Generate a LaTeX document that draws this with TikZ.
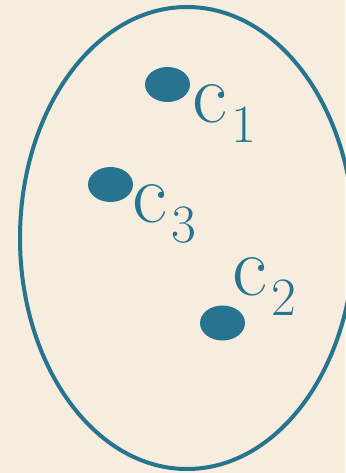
\documentclass[tikz,border=0pt]{standalone}
\usepackage{fontspec}
\usetikzlibrary{shapes.geometric}
\definecolor{paper}{HTML}{F7EDDF}
\definecolor{setblue}{HTML}{277490}
\pgfkeys{tikz/clusterdot/.style={ellipse,fill=setblue,inner sep=0pt,minimum width=45pt,minimum height=35pt}}
\newcommand*\clusterlabel[3]{\node [anchor=base west,inner sep=0pt,text=setblue,font=\fontsize{86}{86}\selectfont] (#1) at #2 {c\kern4pt\raisebox{-20pt}{\fontsize{54}{54}\selectfont #3}};}

\begin{document}
\begin{tikzpicture}[x=1pt,y=-1pt]
    \useasboundingbox (0,0) rectangle (345,473);
    \fill[paper] (0,0) rectangle (345,473);

% the set
\draw[setblue,line width=4pt] (187,238) ellipse [x radius=167,y radius=231];

% points
\node[clusterdot] (p1) at (167.5,84.5) {};
\node[clusterdot] (p3) at (110.5,184.5) {};
\node[clusterdot] (p2) at (222.5,323) {};

\clusterlabel{c1}{(192,123)}{1}
\clusterlabel{c3}{(132,222)}{3}
\clusterlabel{c2}{(232,295)}{2}

\end{tikzpicture}
\end{document}
